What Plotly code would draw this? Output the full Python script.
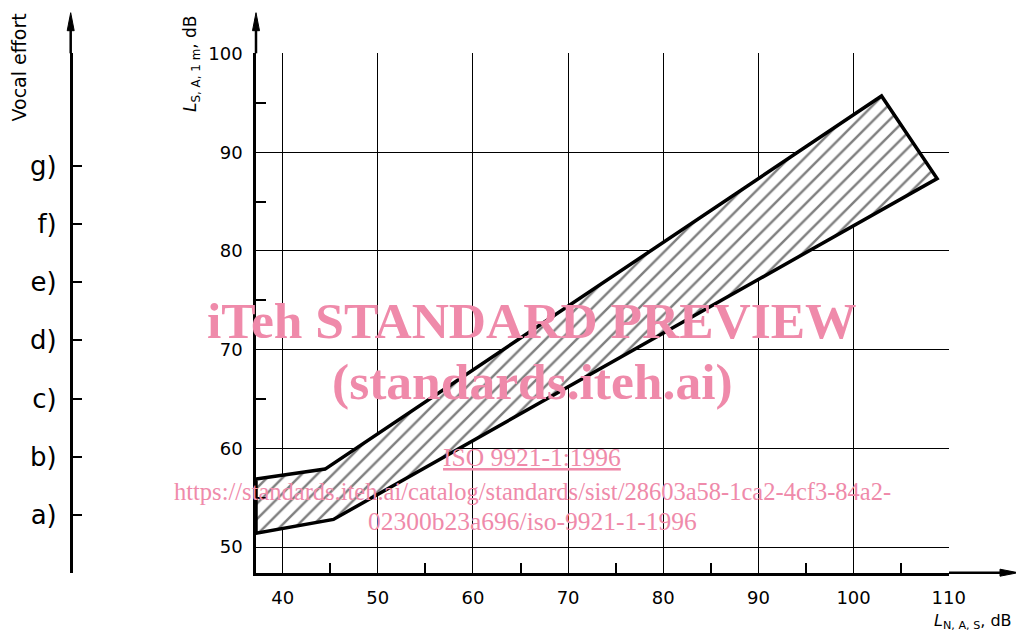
import plotly.graph_objects as go

# ---- data ----
x_ticks = [40, 50, 60, 70, 80, 90, 100, 110]
x_minor = [45, 55, 65, 75, 85, 95, 105]
y_ticks = [50, 60, 70, 80, 90, 100]
y_minor = [55, 65, 75, 85, 95]
x_range = [37.2, 110.03]
y_range = [47.4, 100.03]

# hatched region (L_N,A,S , L_S,A,1m)
band_x = [37.2, 44.46, 102.94, 108.78, 45.34, 37.2, 37.2]
band_y = [56.9, 57.9, 95.7, 87.34, 52.8, 51.4, 56.9]

vocal_labels = ["a)", "b)", "c)", "d)", "e)", "f)", "g)"]
vocal_pos = [1, 2, 3, 4, 5, 6, 7]
vocal_range = [0.009, 8.931]

PINK = "#EF8AAA"
AXFONT = dict(family="DejaVu Sans", size=18, color="black")

W, H = 1024, 636
OFF = 8   # page body margin


def px(x):   # screen pixel -> paper x
    return (x - OFF) / W


def py(y):   # screen pixel -> paper y
    return 1 - (y - OFF) / H


fig = go.Figure()

fig.add_trace(go.Scatter(
    x=band_x, y=band_y, mode="lines", fill="toself",
    line=dict(color="black", width=3.5),
    fillcolor="white",
    fillpattern=dict(shape="/", fgcolor="black", bgcolor="white", size=11, solidity=0.22),
    hoverinfo="skip", showlegend=False,
))

# invisible trace to carry the vocal-effort axis
fig.add_trace(go.Scatter(
    x=[x_range[0]] * len(vocal_pos), y=vocal_pos, yaxis="y2", mode="markers",
    marker=dict(opacity=0), hoverinfo="skip", showlegend=False,
))

AX_L, AX_R, AX_T, AX_B = 256, 949, 53.3, 572.7
VOC_X = 70.7
TIP_Y = 12.7
TIP_X = 1018

fig.update_layout(
    width=W, height=H,
    margin=dict(l=0, r=0, t=0, b=0, autoexpand=False),
    paper_bgcolor="white", plot_bgcolor="rgba(0,0,0,0)",
    showlegend=False,
    xaxis=dict(
        domain=[px(AX_L), px(AX_R)], range=x_range, tickvals=x_ticks, ticks="",
        automargin=False,
        showgrid=True, gridcolor="black", gridwidth=1.2,
        zeroline=False, showline=True, linecolor="black", linewidth=2.5,
        tickfont=AXFONT, ticklabelstandoff=7,
        minor=dict(tickvals=x_minor, ticks="inside",
                   ticklen=10, tickwidth=1.5, tickcolor="black", showgrid=False),
    ),
    yaxis=dict(
        domain=[py(AX_B), py(AX_T)], range=y_range, tickvals=y_ticks, ticks="",
        automargin=False,
        showgrid=True, gridcolor="black", gridwidth=1.2,
        zeroline=False, showline=True, linecolor="black", linewidth=2.5,
        tickfont=AXFONT, ticklabelstandoff=7,
        minor=dict(tickvals=y_minor, ticks="inside",
                   ticklen=10, tickwidth=1.5, tickcolor="black", showgrid=False),
    ),
    yaxis2=dict(
        overlaying="y", anchor="free", position=px(VOC_X), side="left",
        automargin=False,
        range=vocal_range, tickvals=vocal_pos, ticktext=vocal_labels,
        ticks="inside", ticklen=10, tickwidth=2, tickcolor="black",
        showgrid=False, zeroline=False, showline=True, linecolor="black", linewidth=2.5,
        tickfont=dict(family="DejaVu Sans", size=26, color="black"), ticklabelstandoff=8,
    ),
)

# axis extensions with arrowheads
shapes = []
for xs in (AX_L, VOC_X):
    shapes.append(dict(type="line", xref="paper", yref="paper",
                       x0=px(xs), x1=px(xs), y0=py(AX_T), y1=py(TIP_Y + 6),
                       line=dict(color="black", width=2.5)))
    shapes.append(dict(type="path", xref="paper", yref="paper",
                       path=f"M {px(xs)} {py(TIP_Y)} L {px(xs - 3.5)} {py(TIP_Y + 18)} "
                            f"L {px(xs + 3.5)} {py(TIP_Y + 18)} Z",
                       fillcolor="black", line=dict(color="black", width=1)))
shapes.append(dict(type="line", xref="paper", yref="paper",
                   x0=px(AX_R), x1=px(TIP_X - 6), y0=py(AX_B), y1=py(AX_B),
                   line=dict(color="black", width=2.5)))
shapes.append(dict(type="path", xref="paper", yref="paper",
                   path=f"M {px(TIP_X)} {py(AX_B)} L {px(TIP_X - 18)} {py(AX_B - 3.5)} "
                        f"L {px(TIP_X - 18)} {py(AX_B + 3.5)} Z",
                   fillcolor="black", line=dict(color="black", width=1)))
fig.update_layout(shapes=shapes)

ann = []
ann.append(dict(xref="paper", yref="paper", x=px(192), y=py(64), showarrow=False,
                xanchor="center", yanchor="middle",
                text="<i>L</i><sub>S, A, 1 m</sub>, dB", textangle=-90,
                font=dict(family="DejaVu Sans", size=17, color="black")))
ann.append(dict(xref="paper", yref="paper", x=px(1014), y=py(621), showarrow=False,
                xanchor="right", yanchor="middle", text="<i>L</i><sub>N, A, S</sub>, dB",
                font=dict(family="DejaVu Sans", size=16, color="black")))
ann.append(dict(xref="paper", yref="paper", x=px(18.5), y=py(68), showarrow=False,
                xanchor="center", yanchor="middle",
                text="Vocal effort", textangle=-90,
                font=dict(family="DejaVu Sans", size=19, color="black")))
# watermark
wm = [
    ("<b>iTeh STANDARD PREVIEW</b>", 51.5, 320),
    ("<b>(standards.iteh.ai)</b>", 51.5, 381),
    ("<u>ISO 9921-1:1996</u>", 25.5, 458),
    ("https://standards.iteh.ai/catalog/standards/sist/28603a58-1ca2-4cf3-84a2-", 24.5, 491),
    ("02300b23a696/iso-9921-1-1996", 25.5, 521),
]
for t, s, yp in wm:
    ann.append(dict(xref="paper", yref="paper", x=px(532), y=py(yp), showarrow=False,
                    xanchor="center", yanchor="middle",
                    text=t, font=dict(family="Liberation Serif", size=s, color=PINK)))
fig.update_layout(annotations=ann)

fig.write_html("out.html")
